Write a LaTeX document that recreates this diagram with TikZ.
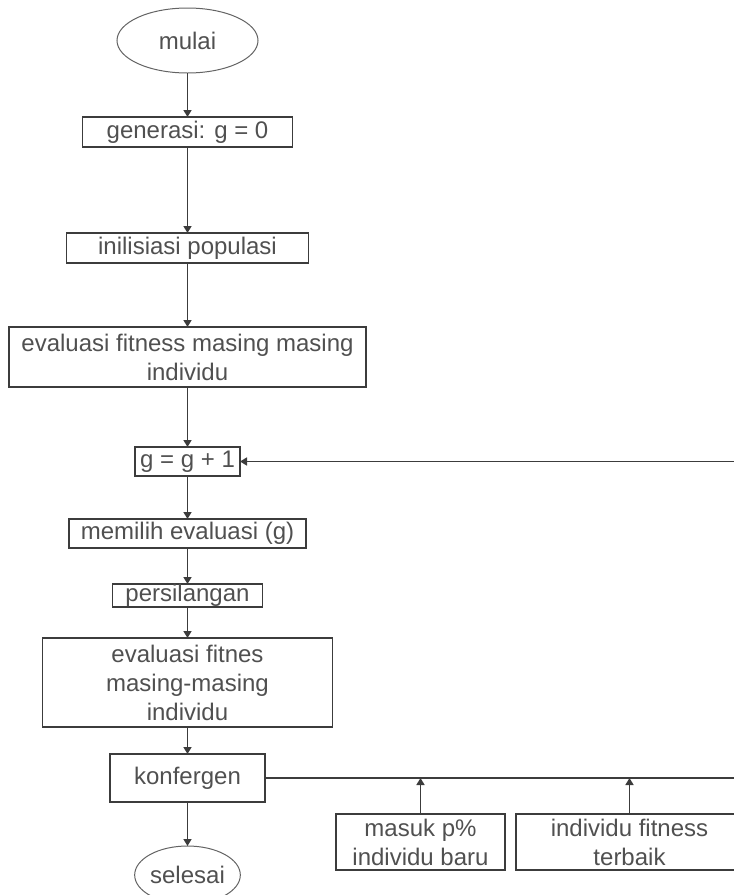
\documentclass[tikz,border=0pt]{standalone}
\usepackage{fontspec}
\setmainfont{Liberation Sans}
\usepackage{tikz}
\usetikzlibrary{arrows.meta, positioning, shapes.geometric}

\definecolor{inkgray}{HTML}{3C3C3C}
\definecolor{textgray}{HTML}{505050}

\begin{document}
\begin{tikzpicture}[
    box/.style={rectangle, draw=inkgray, line width=1.6pt, inner sep=0pt, outer sep=0pt, align=center, text=textgray, font=\fontsize{24}{29}\selectfont},
    terminal/.style={ellipse, draw=inkgray!80, line width=1pt, inner sep=0pt, outer sep=0pt, text=textgray, font=\fontsize{24}{29}\selectfont},
    arrow/.style={-{Triangle[length=7pt, width=8pt]}, line width=1.6pt, draw=inkgray}
]
    \useasboundingbox (0pt,0pt) rectangle (734pt,-895pt);

    % Start
    \node[terminal, minimum width=141pt, minimum height=65pt] (mulai) at (187.5pt,-40.5pt) {mulai};

    % Initialisation
    \node[box, below=44pt of mulai, minimum width=210pt, minimum height=30pt] (generasi) {generasi: g = 0};
    \node[box, below=86pt of generasi, minimum width=242pt, minimum height=30pt] (inisial) {inilisiasi populasi};
    \node[box, below=64pt of inisial, minimum width=357pt, minimum height=60pt] (evalawal) {evaluasi fitness masing masing\\individu};

    % Generation loop
    \node[box, below=60pt of evalawal, minimum width=105pt, minimum height=29pt] (gplus) {g = g + 1};
    \node[box, below=43pt of gplus, minimum width=237pt, minimum height=29pt] (memilih) {memilih evaluasi (g)};
    \node[box, below=36pt of memilih, minimum width=150pt, minimum height=23pt] (silang) {persilangan};
    \node[box, below=31pt of silang, minimum width=290pt, minimum height=89pt] (evalulang) {evaluasi fitnes\\masing-masing\\individu};
    \node[box, below=27pt of evalulang, minimum width=155pt, minimum height=48pt] (konfergen) {konfergen};

    % End
    \node[terminal, below=44pt of konfergen, minimum width=87pt, minimum height=58pt] (selesai) {selesai};

    % Inputs to the loop
    \node[box, below right=12pt and 71pt of konfergen, minimum width=169pt, minimum height=56pt] (masuk) {masuk p\%\\individu baru};
    \node[box, right=11pt of masuk, minimum width=227pt, minimum height=56pt] (terbaik) {individu fitness\\terbaik};

    \coordinate (balik) at (741pt,0 |- konfergen.east);

    % Arrows
    \draw[arrow] (mulai) -- (generasi);
    \draw[arrow] (generasi) -- (inisial);
    \draw[arrow] (inisial) -- (evalawal);
    \draw[arrow] (evalawal) -- (gplus);
    \draw[arrow] (gplus) -- (memilih);
    \draw[arrow] (memilih) -- (silang);
    \draw[arrow] (silang) -- (evalulang);
    \draw[arrow] (evalulang) -- (konfergen);
    \draw[arrow] (konfergen) -- (selesai);
    \draw[arrow] (konfergen.east) -- (balik) |- (gplus.east);
    \draw[arrow] (masuk.north) -- (masuk.north |- konfergen.east);
    \draw[arrow] (terbaik.north) -- (terbaik.north |- konfergen.east);

\end{tikzpicture}
\end{document}
